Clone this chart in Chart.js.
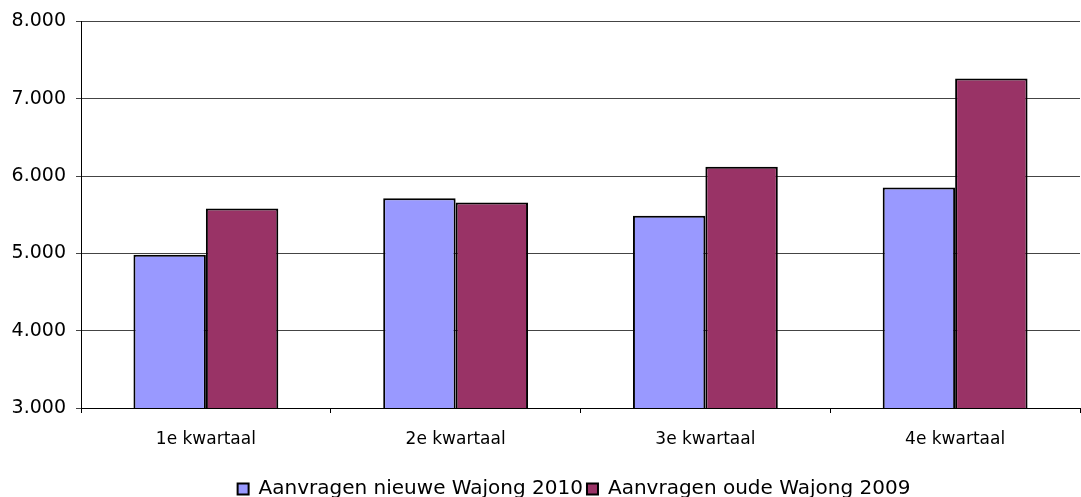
<!DOCTYPE html>
<html>
<head>
<meta charset="utf-8">
<script src="https://cdn.jsdelivr.net/npm/chart.js@4.4.0/dist/chart.umd.min.js"></script>
<style>
    html, body { margin: 0; padding: 0; background: #fff; }
    #wrap { width: 1081px; height: 497px; }
</style>
</head>
<body>
<div id="wrap"><canvas id="chart-wajong"></canvas></div>
<script>
// Aanvragen Wajong per kwartaal
const kwartalen = ["1e kwartaal", "2e kwartaal", "3e kwartaal", "4e kwartaal"];
const nieuweWajong2010 = [4983, 5714, 5486, 5852];
const oudeWajong2009 = [5581, 5658, 6119, 7262];
const yTicks = [3000, 4000, 5000, 6000, 7000, 8000];

const FONT = "'DejaVu Sans', Verdana, sans-serif";

function fmtNL(v) {
    return String(v).replace(/\B(?=(\d{3})+(?!\d))/g, ".");
}

// legenda staat in het origineel iets rechts van het midden
const legendShift = {
    id: 'legendShift',
    afterLayout(chart) {
        if (chart.legend) {
            chart.legend.left += 34;
            chart.legend.right += 34;
        }
    }
};

const ctx = document.getElementById("chart-wajong").getContext("2d");
new Chart(ctx, {
    type: 'bar',
    data: {
        labels: kwartalen,
        datasets: [
            {
                label: 'Aanvragen nieuwe Wajong 2010',
                data: nieuweWajong2010,
                backgroundColor: '#9999ff',
                borderColor: '#000000',
                borderWidth: 2
            },
            {
                label: 'Aanvragen oude Wajong 2009',
                data: oudeWajong2009,
                backgroundColor: '#993366',
                borderColor: '#000000',
                borderWidth: 2
            }
        ]
    },
    options: {
        responsive: true,
        maintainAspectRatio: false,
        animation: false,
        layout: { padding: { top: 14, right: 1, left: 0, bottom: -12 } },
        datasets: {
            bar: { categoryPercentage: 0.58, barPercentage: 1.0 }
        },
        plugins: {
            tooltip: { enabled: false },
            legend: {
                position: 'bottom',
                labels: {
                    font: { family: FONT, size: 20 },
                    color: '#000',
                    boxWidth: 11,
                    boxHeight: 11,
                    padding: 4
                }
            }
        },
        scales: {
            x: {
                grid: {
                    offset: true,
                    drawOnChartArea: false,
                    color: '#000',
                    tickLength: 5
                },
                border: { color: '#000', width: 1 },
                ticks: {
                    font: { family: FONT, size: 17 },
                    color: '#000',
                    padding: 16
                },
                afterFit: (scale) => { scale.height = 67; }
            },
            y: {
                min: 3000,
                max: 8000,
                afterBuildTicks: (scale) => { scale.ticks = yTicks.map(v => ({ value: v })); },
                grid: {
                    color: '#444',
                    lineWidth: 1,
                    tickLength: 5
                },
                border: { color: '#000', width: 1 },
                ticks: {
                    font: { family: FONT, size: 19 },
                    color: '#000',
                    padding: 10,
                    callback: (v) => fmtNL(v)
                },
                afterFit: (scale) => { scale.width = 81; }
            }
        }
    },
    plugins: [legendShift]
});
</script>
</body>
</html>
